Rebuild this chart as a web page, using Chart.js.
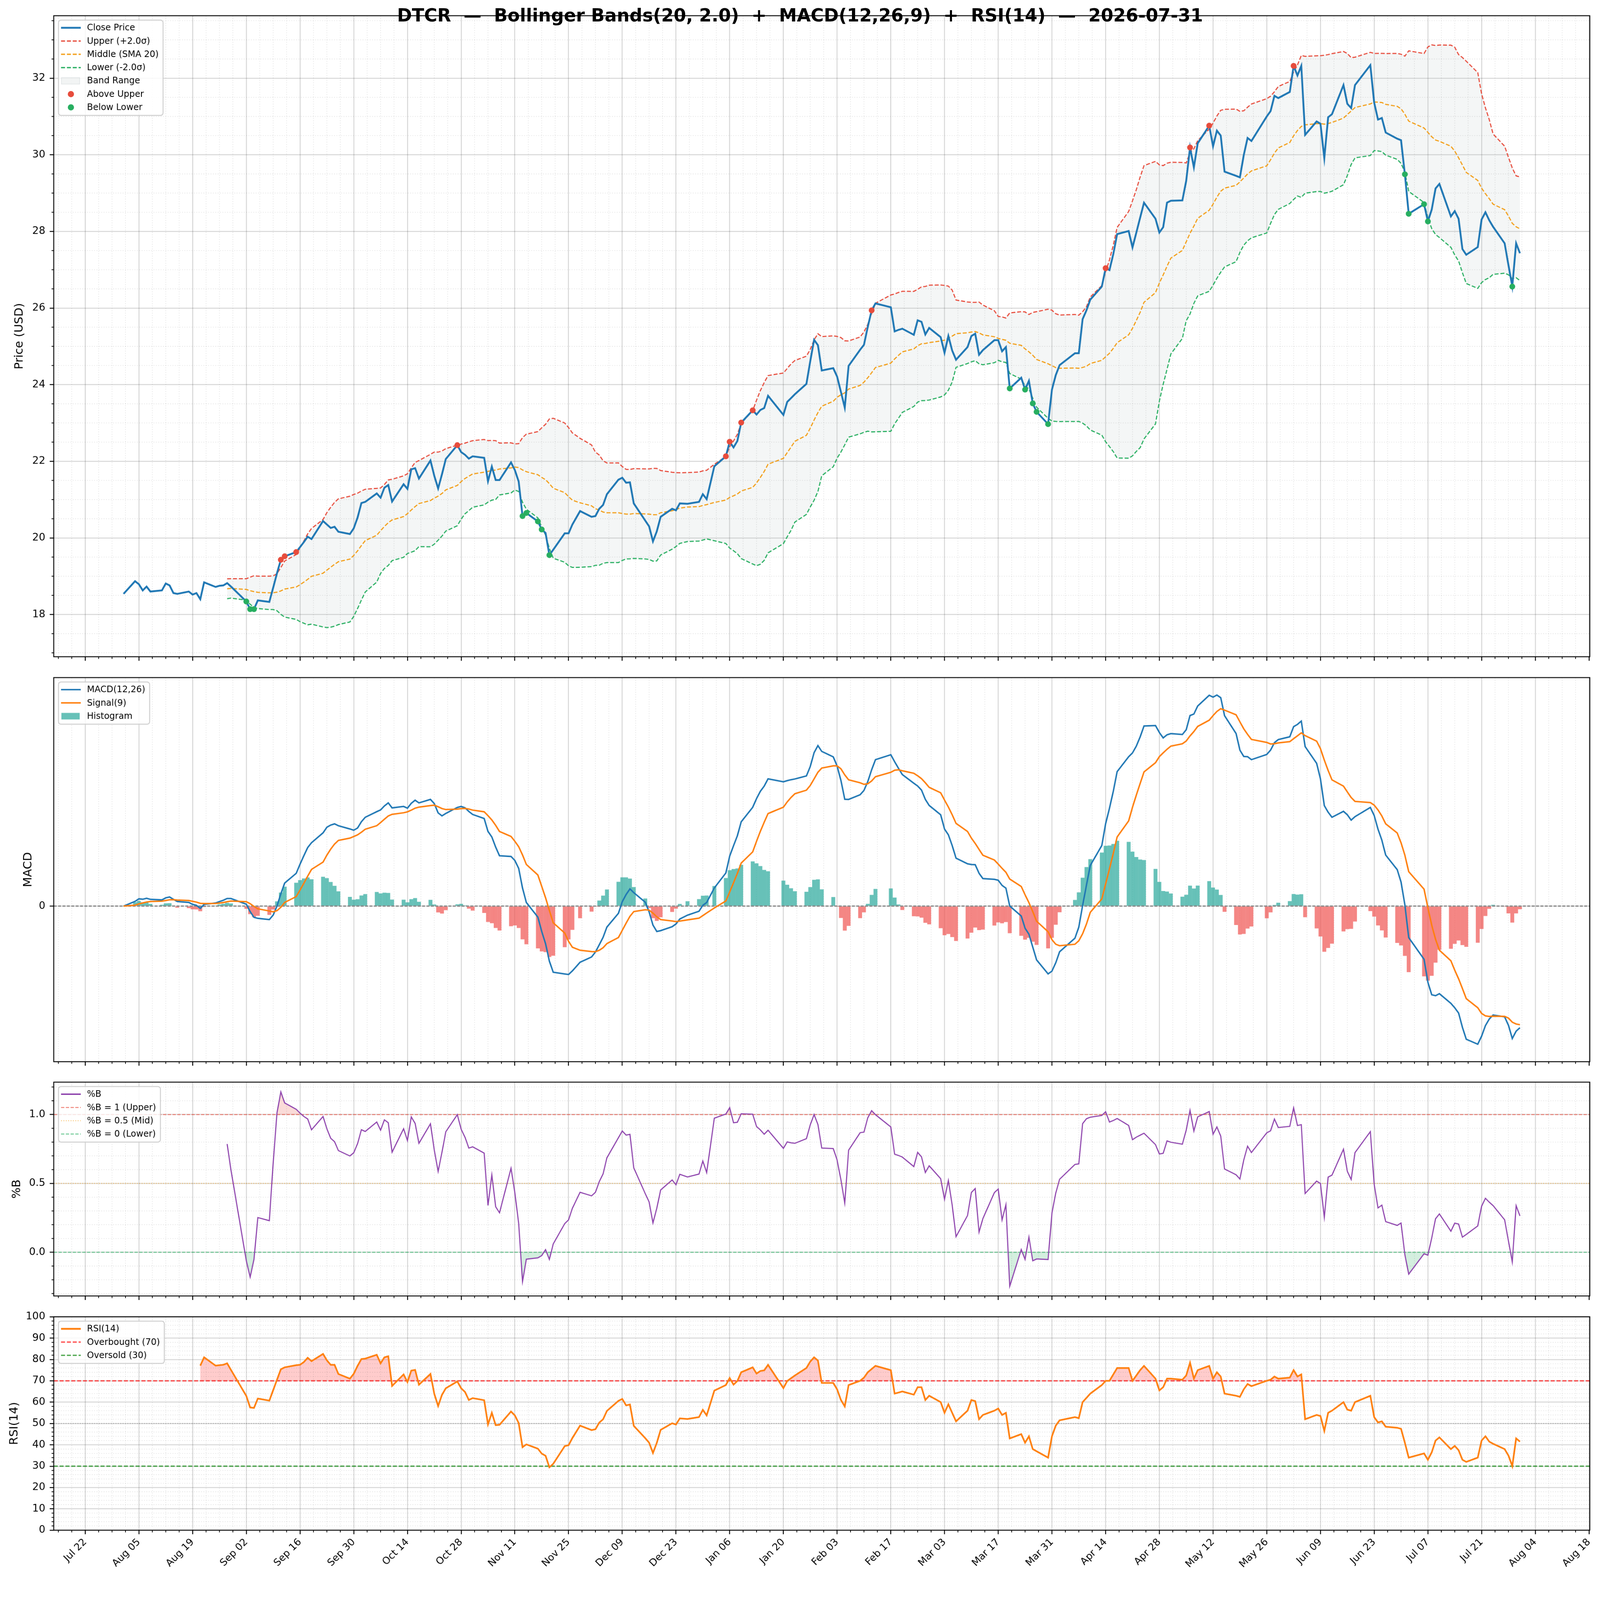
<!DOCTYPE html>
<html>
<head>
<meta charset="utf-8">
<title>DTCR - Bollinger Bands, MACD, %B, RSI</title>
<script src="https://cdn.jsdelivr.net/npm/chart.js@4.4.1/dist/chart.umd.min.js"></script>
<style>
  html, body { margin: 0; padding: 0; background: #fff; overflow: hidden; }
  #page { position: absolute; left: 0; top: 0; width: 4378px; height: 4322px; transform-origin: 0 0; background: #fff; }
  canvas { position: absolute; left: 0; }
  #title { position: absolute; left: 0; top: 15px; width: 4378px; text-align: center; white-space: pre;
           font: bold 49px "DejaVu Sans", sans-serif; line-height: 56px; color: #000; z-index: 5; }
</style>
</head>
<body>
<div id="page">
<canvas id="pricePanel" style="top:0px"></canvas>
<canvas id="macdPanel" style="top:1830px"></canvas>
<canvas id="pctbPanel" style="top:2940px"></canvas>
<canvas id="rsiPanel" style="top:3580px"></canvas>
<div id="title">DTCR  —  Bollinger Bands(20, 2.0)  +  MACD(12,26,9)  +  RSI(14)  —  2026-07-31</div>
</div>
<script>
// trading sessions shown on the chart
var dates = [
  '2025-08-01','2025-08-04','2025-08-05','2025-08-06','2025-08-07','2025-08-08','2025-08-11','2025-08-12','2025-08-13','2025-08-14',
  '2025-08-15','2025-08-18','2025-08-19','2025-08-20','2025-08-21','2025-08-22','2025-08-25','2025-08-26','2025-08-27','2025-08-28',
  '2025-08-29','2025-09-02','2025-09-03','2025-09-04','2025-09-05','2025-09-08','2025-09-09','2025-09-10','2025-09-11','2025-09-12',
  '2025-09-15','2025-09-16','2025-09-17','2025-09-18','2025-09-19','2025-09-22','2025-09-23','2025-09-24','2025-09-25','2025-09-26',
  '2025-09-29','2025-09-30','2025-10-01','2025-10-02','2025-10-03','2025-10-06','2025-10-07','2025-10-08','2025-10-09','2025-10-10',
  '2025-10-13','2025-10-14','2025-10-15','2025-10-16','2025-10-17','2025-10-20','2025-10-21','2025-10-22','2025-10-23','2025-10-24',
  '2025-10-27','2025-10-28','2025-10-29','2025-10-30','2025-10-31','2025-11-03','2025-11-04','2025-11-05','2025-11-06','2025-11-07',
  '2025-11-10','2025-11-11','2025-11-12','2025-11-13','2025-11-14','2025-11-17','2025-11-18','2025-11-19','2025-11-20','2025-11-21',
  '2025-11-24','2025-11-25','2025-11-26','2025-11-28','2025-12-01','2025-12-02','2025-12-03','2025-12-04','2025-12-05','2025-12-08',
  '2025-12-09','2025-12-10','2025-12-11','2025-12-12','2025-12-15','2025-12-16','2025-12-17','2025-12-18','2025-12-19','2025-12-22',
  '2025-12-23','2025-12-24','2025-12-26','2025-12-29','2025-12-30','2025-12-31','2026-01-02','2026-01-05','2026-01-06','2026-01-07',
  '2026-01-08','2026-01-09','2026-01-12','2026-01-13','2026-01-14','2026-01-15','2026-01-16','2026-01-20','2026-01-21','2026-01-22',
  '2026-01-23','2026-01-26','2026-01-27','2026-01-28','2026-01-29','2026-01-30','2026-02-02','2026-02-03','2026-02-04','2026-02-05',
  '2026-02-06','2026-02-09','2026-02-10','2026-02-11','2026-02-12','2026-02-13','2026-02-17','2026-02-18','2026-02-19','2026-02-20',
  '2026-02-23','2026-02-24','2026-02-25','2026-02-26','2026-02-27','2026-03-02','2026-03-03','2026-03-04','2026-03-05','2026-03-06',
  '2026-03-09','2026-03-10','2026-03-11','2026-03-12','2026-03-13','2026-03-16','2026-03-17','2026-03-18','2026-03-19','2026-03-20',
  '2026-03-23','2026-03-24','2026-03-25','2026-03-26','2026-03-27','2026-03-30','2026-03-31','2026-04-01','2026-04-02','2026-04-06',
  '2026-04-07','2026-04-08','2026-04-09','2026-04-10','2026-04-13','2026-04-14','2026-04-15','2026-04-16','2026-04-17','2026-04-20',
  '2026-04-21','2026-04-22','2026-04-23','2026-04-24','2026-04-27','2026-04-28','2026-04-29','2026-04-30','2026-05-01','2026-05-04',
  '2026-05-05','2026-05-06','2026-05-07','2026-05-08','2026-05-11','2026-05-12','2026-05-13','2026-05-14','2026-05-15','2026-05-18',
  '2026-05-19','2026-05-20','2026-05-21','2026-05-22','2026-05-26','2026-05-27','2026-05-28','2026-05-29','2026-06-01','2026-06-02',
  '2026-06-03','2026-06-04','2026-06-05','2026-06-08','2026-06-09','2026-06-10','2026-06-11','2026-06-12','2026-06-15','2026-06-16',
  '2026-06-17','2026-06-18','2026-06-22','2026-06-23','2026-06-24','2026-06-25','2026-06-26','2026-06-29','2026-06-30','2026-07-01',
  '2026-07-02','2026-07-06','2026-07-07','2026-07-08','2026-07-09','2026-07-10','2026-07-13','2026-07-14','2026-07-15','2026-07-16',
  '2026-07-17','2026-07-20','2026-07-21','2026-07-22','2026-07-23','2026-07-24','2026-07-27','2026-07-28','2026-07-29','2026-07-30',
  '2026-07-31'
]

// close price, one per session (USD)
var closePrice = [
  18.54, 18.87, 18.79, 18.63, 18.73, 18.60, 18.63, 18.81, 18.76, 18.56, 18.54, 18.60, 18.52, 18.56, 18.40, 18.84, 18.72, 18.75, 18.76, 18.82, 18.73,
  18.34, 18.14, 18.14, 18.37, 18.33, 18.70, 19.08, 19.43, 19.52, 19.63, 19.76, 19.89, 20.03, 19.97, 20.44, 20.35, 20.26, 20.29, 20.16, 20.10, 20.25,
  20.53, 20.91, 20.94, 21.16, 21.05, 21.31, 21.38, 20.95, 21.40, 21.28, 21.79, 21.82, 21.55, 22.02, 21.62, 21.29, 21.66, 22.06, 22.42, 22.24, 22.17, 22.07, 22.13,
  22.09, 21.48, 21.86, 21.51, 21.51, 21.97, 21.77, 21.47, 20.57, 20.65, 20.43, 20.22, 20.13, 19.55, 19.69, 20.12, 20.12, 20.35, 20.70,
  20.55, 20.57, 20.76, 20.86, 21.14, 21.52, 21.57, 21.44, 21.45, 20.90, 20.45, 20.30, 19.91, 20.17, 20.55, 20.76, 20.72, 20.90, 20.89, 20.94, 21.14, 21.01,
  21.87, 22.13, 22.51, 22.36, 22.53, 23.01, 23.33, 23.22, 23.34, 23.39, 23.71, 23.21, 23.55, 23.65, 23.75, 24.02, 24.61, 25.17, 25.03, 24.37,
  24.43, 24.21, 23.81, 23.40, 24.49, 24.91, 25.04, 25.51, 25.94, 26.12, 26.02, 25.39, 25.43, 25.46, 25.30, 25.68, 25.64, 25.31, 25.48,
  25.24, 24.83, 25.27, 24.89, 24.65, 24.98, 25.27, 25.33, 24.78, 24.90, 25.16, 25.16, 24.87, 24.98, 23.90, 24.18, 23.87, 24.10, 23.51, 23.29, 22.97, 23.87,
  24.25, 24.51, 24.82, 24.82, 25.71, 25.94, 26.22, 26.56, 27.04, 26.99, 27.41, 27.93, 28.01, 27.58, 27.97, 28.36, 28.75, 28.33, 27.97, 28.11, 28.75,
  28.80, 28.81, 29.32, 30.19, 29.67, 30.30, 30.76, 30.22, 30.63, 30.50, 29.56, 29.45, 29.41, 29.99, 30.44, 30.36, 31.00, 31.14, 31.54, 31.48,
  31.64, 32.32, 32.07, 32.32, 30.52, 30.87, 30.81, 29.91, 30.98, 31.06, 31.82, 31.33, 31.22, 31.82, 32.34, 31.36, 30.92, 30.96, 30.58, 30.42, 30.38,
  29.49, 28.46, 28.71, 28.26, 28.57, 29.12, 29.24, 28.39, 28.53, 28.33, 27.54, 27.39, 27.59, 28.31, 28.50, 28.29, 28.12, 27.69, 27.12, 26.56, 27.69, 27.43
]

// RSI(14) as drawn, from the 15th session (2025-08-21) on
var rsiFirstDate = '2025-08-21'
var rsi14 = [
  77.1, 81.0, 77.1, 77.3, 77.5, 78.2, 75.1,
  62.9, 57.5, 57.3, 61.7, 60.7, 65.6, 70.5, 75.4, 76.3, 77.3, 77.5, 78.8, 80.8, 79.2, 82.6, 79.6, 77.5, 77.5, 73.2, 71.0, 73.3,
  77.0, 80.2, 80.4, 82.2, 78.2, 81.0, 81.5, 67.6, 73.0, 69.4, 74.8, 75.1, 68.2, 73.2, 63.9, 58.2, 63.4, 66.5, 69.7, 66.5, 64.8, 61.0, 61.9,
  60.9, 49.6, 55.0, 49.2, 49.4, 55.6, 53.8, 50.2, 38.9, 40.2, 38.2, 35.9, 34.9, 29.5, 31.1, 39.4, 39.8, 43.2, 49.0,
  46.9, 47.3, 50.4, 52.0, 55.9, 60.6, 61.5, 58.5, 58.9, 48.9, 43.1, 41.0, 36.2, 40.9, 47.0, 50.1, 49.5, 52.4, 52.1, 53.0, 56.4, 53.8,
  65.4, 68.0, 71.3, 68.2, 69.9, 74.0, 76.3, 73.4, 74.6, 74.9, 77.5, 66.6, 69.9, 71.2, 72.5, 76.0, 79.0, 81.0, 79.5, 69.0,
  69.0, 66.0, 61.0, 58.0, 68.0, 70.0, 71.5, 74.0, 75.5, 77.0, 75.0, 64.0, 64.5, 65.0, 63.5, 67.0, 67.0, 61.0, 63.0,
  60.0, 55.0, 59.0, 55.0, 51.0, 56.0, 61.0, 60.5, 52.0, 54.0, 56.0, 57.0, 54.0, 55.0, 43.0, 45.0, 41.0, 44.0, 38.0, 37.0, 34.0, 44.0,
  49.0, 51.5, 53.0, 52.5, 60.0, 62.0, 64.0, 68.0, 70.0, 70.0, 73.0, 76.0, 76.0, 70.0, 72.5, 75.0, 77.0, 71.0, 65.5, 67.0, 71.0,
  71.0, 70.5, 72.5, 78.5, 71.0, 75.0, 77.0, 71.0, 74.0, 72.0, 64.0, 63.0, 62.5, 66.0, 68.5, 67.5, 70.0, 70.5, 72.0, 71.0,
  71.5, 75.0, 72.0, 73.0, 52.0, 54.0, 53.5, 46.5, 55.0, 56.0, 60.0, 56.5, 56.0, 60.0, 63.0, 53.0, 50.5, 51.0, 48.5, 48.0, 47.5,
  41.0, 34.0, 36.0, 33.0, 36.5, 42.0, 43.5, 38.0, 39.5, 37.5, 33.0, 32.0, 34.0, 42.0, 44.0, 41.5, 40.5, 38.0, 35.0, 30.0, 43.0, 41.5
]

// sessions flagged with a marker on the price panel
var aboveUpperDates = ['2025-09-11', '2025-09-12', '2025-09-15', '2025-10-27', '2026-01-05', '2026-01-06', '2026-01-09',
  '2026-01-12', '2026-02-12', '2026-04-14', '2026-05-06', '2026-05-11', '2026-06-02']
var belowLowerDates = ['2025-09-02', '2025-09-03', '2025-09-04', '2025-11-13', '2025-11-14', '2025-11-17', '2025-11-18',
  '2025-11-20', '2026-03-20', '2026-03-24', '2026-03-26', '2026-03-27', '2026-03-30', '2026-07-01', '2026-07-02',
  '2026-07-06', '2026-07-07', '2026-07-29']

// axis ticks
var priceTicks = [18, 20, 22, 24, 26, 28, 30, 32]
var macdTicks = [0]
var pctbTicks = [0, 0.5, 1]
var rsiTicks = [0, 10, 20, 30, 40, 50, 60, 70, 80, 90, 100]
var dateTickFirst = '2025-07-22'
var dateTickEvery = 14

// ---------------------------------------------------------------------------

// the page is laid out at 4378x4322; scale it to the viewport width
var PAGE_W = 4378, PAGE_H = 4322
var page = document.getElementById('page')
var scale = window.innerWidth / PAGE_W
if (Math.abs(scale - 1) > 0.002) page.style.transform = 'scale(' + scale + ')'
var DPR = Math.max(1, (window.devicePixelRatio || 1) * scale)

var MONTHS = ['Jan', 'Feb', 'Mar', 'Apr', 'May', 'Jun', 'Jul', 'Aug', 'Sep', 'Oct', 'Nov', 'Dec']
var BASE = Date.parse(dateTickFirst)
function dayNum(s) { return (Date.parse(s) - BASE) / 864e5 }
function fmtDay(v) {
    var d = new Date(BASE + v * 864e5)
    return MONTHS[d.getUTCMonth()] + ' ' + String(d.getUTCDate()).padStart(2, '0')
}

var xs = dates.map(dayNum)
var span = xs[xs.length - 1] - xs[0]
var X_MIN = xs[0] - 0.05 * span
var X_MAX = xs[xs.length - 1] + 0.05 * span
var xTicks = []
for (var t = 0; t <= X_MAX; t += dateTickEvery) xTicks.push(t)

// Bollinger(20, 2)
var upper = [], middle = [], lower = [], pctB = []
closePrice.forEach(function (c, i) {
    if (i < 19) { upper.push(null); middle.push(null); lower.push(null); pctB.push(null); return }
    var w = closePrice.slice(i - 19, i + 1)
    var m = w.reduce(function (a, b) { return a + b }, 0) / 20
    var sd = Math.sqrt(w.reduce(function (a, b) { return a + (b - m) * (b - m) }, 0) / 19)
    middle.push(m); upper.push(m + 2 * sd); lower.push(m - 2 * sd)
    pctB.push((c - (m - 2 * sd)) / (4 * sd))
})

// MACD(12, 26, 9)
function ema(arr, span) {
    var a = 2 / (span + 1), out = [], prev
    arr.forEach(function (v, i) { prev = i === 0 ? v : a * v + (1 - a) * prev; out.push(prev) })
    return out
}
var ema12 = ema(closePrice, 12), ema26 = ema(closePrice, 26)
var macd = ema12.map(function (v, i) { return v - ema26[i] })
var signal = ema(macd, 9)
var hist = macd.map(function (v, i) { return v - signal[i] })

function pts(arr) {
    var out = []
    arr.forEach(function (y, i) { if (y !== null) out.push({ x: xs[i], y: y }) })
    return out
}
function markerPts(list) {
    return list.map(function (d) { var i = dates.indexOf(d); return { x: xs[i], y: closePrice[i] } })
}
var rsiStart = dates.indexOf(rsiFirstDate)
var rsiPts = rsi14.map(function (v, k) { return { x: xs[rsiStart + k], y: v } })
function hline(v) { return [{ x: X_MIN, y: v }, { x: X_MAX, y: v }] }
function padded(vals) {
    var lo = Math.min.apply(null, vals), hi = Math.max.apply(null, vals), p = 0.05 * (hi - lo)
    return { min: lo - p, max: hi + p }
}

var priceRange = padded(closePrice.concat(upper.filter(Number.isFinite), lower.filter(Number.isFinite)))
var macdRange = padded(macd.concat(signal, hist, [0]))
var pctbRange = padded(pctB.filter(Number.isFinite).concat([0, 1]))

// ---------------------------------------------------------------------------

Chart.defaults.font.family = '"DejaVu Sans", sans-serif'
Chart.defaults.color = '#000'
Chart.defaults.plugins.legend.display = false
Chart.defaults.plugins.tooltip.enabled = false

var GRID = 'rgba(0,0,0,0.17)'
var MINOR = 'rgba(0,0,0,0.13)'
var AREA_LEFT = 147

var LEGENDS = {
    pricePanel: [
        { label: 'Close Price', kind: 'line', color: '#1f77b4', width: 5 },
        { label: 'Upper (+2.0\u03c3)', kind: 'line', color: '#e74c3c', width: 3.5, dash: [11, 5] },
        { label: 'Middle (SMA 20)', kind: 'line', color: '#f39c12', width: 3.5, dash: [11, 5] },
        { label: 'Lower (-2.0\u03c3)', kind: 'line', color: '#27ae60', width: 3.5, dash: [11, 5] },
        { label: 'Band Range', kind: 'box', color: 'rgba(149,165,166,0.12)', edge: 'rgba(149,165,166,0.25)' },
        { label: 'Above Upper', kind: 'dot', color: '#e74c3c' },
        { label: 'Below Lower', kind: 'dot', color: '#27ae60' }
    ],
    macdPanel: [
        { label: 'MACD(12,26)', kind: 'line', color: '#1f77b4', width: 4 },
        { label: 'Signal(9)', kind: 'line', color: '#ff7f0e', width: 4 },
        { label: 'Histogram', kind: 'box', color: 'rgba(38,166,154,0.7)' }
    ],
    pctbPanel: [
        { label: '%B', kind: 'line', color: '#8e44ad', width: 4 },
        { label: '%B = 1 (Upper)', kind: 'line', color: 'rgba(231,76,60,0.7)', width: 2.5, dash: [9, 4] },
        { label: '%B = 0.5 (Mid)', kind: 'line', color: 'rgba(243,156,18,0.6)', width: 2.5, dash: [2.5, 4] },
        { label: '%B = 0 (Lower)', kind: 'line', color: 'rgba(39,174,96,0.7)', width: 2.5, dash: [9, 4] }
    ],
    rsiPanel: [
        { label: 'RSI(14)', kind: 'line', color: '#ff7f0e', width: 5 },
        { label: 'Overbought (70)', kind: 'line', color: 'rgba(255,0,0,0.7)', width: 3.5, dash: [11, 5] },
        { label: 'Oversold (30)', kind: 'line', color: 'rgba(0,128,0,0.7)', width: 3.5, dash: [11, 5] }
    ]
}
var MINORS = {
    pricePanel: { step: 0.5, major: 2 },
    macdPanel: null,
    pctbPanel: { step: 0.1, major: 0.5 },
    rsiPanel: { step: 2, major: 10 }
}

function minorValues(min, max, step, major) {
    var out = []
    for (var k = Math.ceil(min / step); k * step <= max; k++) {
        var v = k * step, r = v / major
        if (Math.abs(r - Math.round(r)) < 1e-6) continue
        out.push(v)
    }
    return out
}

function drawLegend(chart, items) {
    var ctx = chart.ctx, a = chart.chartArea
    ctx.save()
    ctx.font = '24px "DejaVu Sans", sans-serif'
    var rowH = 36.3, tw = 0
    items.forEach(function (it) { tw = Math.max(tw, ctx.measureText(it.label).width) })
    var x0 = a.left + 13, y0 = a.top + 12
    var w = 78 + tw + 12, h = 21 + rowH * (items.length - 1) + 22
    ctx.beginPath()
    ctx.roundRect(x0, y0, w, h, 7)
    ctx.fillStyle = 'rgba(255,255,255,0.8)'
    ctx.fill()
    ctx.strokeStyle = '#cccccc'
    ctx.lineWidth = 2.5
    ctx.stroke()
    items.forEach(function (it, i) {
        var y = y0 + 21 + i * rowH
        if (it.kind === 'line') {
            ctx.beginPath()
            ctx.setLineDash(it.dash || [])
            ctx.strokeStyle = it.color
            ctx.lineWidth = it.width
            ctx.moveTo(x0 + 7, y); ctx.lineTo(x0 + 61, y)
            ctx.stroke()
            ctx.setLineDash([])
        } else if (it.kind === 'box') {
            ctx.fillStyle = it.color
            ctx.fillRect(x0 + 8, y - 9, 50, 18)
            if (it.edge) { ctx.strokeStyle = it.edge; ctx.lineWidth = 1.5; ctx.strokeRect(x0 + 8, y - 9, 50, 18) }
        } else {
            ctx.beginPath()
            ctx.fillStyle = it.color
            ctx.arc(x0 + 34, y, 8.5, 0, Math.PI * 2)
            ctx.fill()
        }
        ctx.fillStyle = '#000'
        ctx.textAlign = 'left'
        ctx.textBaseline = 'middle'
        ctx.fillText(it.label, x0 + 78, y + 1)
    })
    ctx.restore()
}

var extras = {
    id: 'extras',
    beforeDatasetsDraw: function (chart) {
        var ctx = chart.ctx, a = chart.chartArea, x = chart.scales.x, y = chart.scales.y
        var mi = MINORS[chart.canvas.id]
        ctx.save()
        ctx.beginPath(); ctx.rect(a.left, a.top, a.width, a.height); ctx.clip()
        ctx.strokeStyle = MINOR
        ctx.lineWidth = 1.6
        ctx.setLineDash([2.5, 4])
        minorValues(x.min, x.max, dateTickEvery / 4, dateTickEvery).forEach(function (v) {
            var p = x.getPixelForValue(v)
            ctx.beginPath(); ctx.moveTo(p, a.top); ctx.lineTo(p, a.bottom); ctx.stroke()
        })
        if (mi) minorValues(y.min, y.max, mi.step, mi.major).forEach(function (v) {
            var p = y.getPixelForValue(v)
            ctx.beginPath(); ctx.moveTo(a.left, p); ctx.lineTo(a.right, p); ctx.stroke()
        })
        ctx.restore()
    },
    afterDatasetsDraw: function (chart) {
        var ctx = chart.ctx, a = chart.chartArea, x = chart.scales.x, y = chart.scales.y
        var mi = MINORS[chart.canvas.id]
        ctx.save()
        ctx.strokeStyle = '#000'
        ctx.lineWidth = 2
        minorValues(x.min, x.max, dateTickEvery / 4, dateTickEvery).forEach(function (v) {
            var p = x.getPixelForValue(v)
            ctx.beginPath(); ctx.moveTo(p, a.bottom); ctx.lineTo(p, a.bottom + 6); ctx.stroke()
        })
        if (mi) minorValues(y.min, y.max, mi.step, mi.major).forEach(function (v) {
            var p = y.getPixelForValue(v)
            ctx.beginPath(); ctx.moveTo(a.left - 6, p); ctx.lineTo(a.left, p); ctx.stroke()
        })
        ctx.lineWidth = 2.5
        ctx.strokeRect(a.left, a.top, a.width, a.height)
        ctx.restore()
    },
    afterDraw: function (chart) {
        var items = LEGENDS[chart.canvas.id]
        if (items) drawLegend(chart, items)
    }
}
Chart.register(extras)

function sizeCanvas(id, h) {
    var c = document.getElementById(id)
    c.style.width = PAGE_W + 'px'
    c.style.height = h + 'px'
    c.width = PAGE_W
    c.height = h
    return c
}
function xScale(showLabels, height) {
    return {
        type: 'linear', min: X_MIN, max: X_MAX, offset: false,
        grid: { offset: false, color: GRID, lineWidth: 2.5, tickColor: '#000', tickWidth: 2.5, tickLength: 11 },
        border: { display: false },
        ticks: { display: showLabels, autoSkip: false, maxRotation: 45, minRotation: 45, padding: 6,
                 font: { size: 27 }, callback: function (v) { return fmtDay(v) } },
        afterBuildTicks: function (s) { s.ticks = xTicks.map(function (v) { return { value: v } }) },
        afterFit: function (s) { s.height = height; s.paddingLeft = 0; s.paddingRight = 0 }
    }
}
function yScale(o) {
    return {
        type: 'linear', min: o.range.min, max: o.range.max,
        grid: { color: GRID, lineWidth: 2.5, tickColor: '#000', tickWidth: 2.5, tickLength: 11 },
        border: { display: false },
        ticks: { font: { size: 28 }, padding: 12, callback: o.fmt },
        title: { display: true, text: o.title, font: { size: 32 }, padding: { top: 4, bottom: 4 } },
        afterBuildTicks: function (s) { s.ticks = o.ticks.map(function (v) { return { value: v } }) },
        afterFit: function (s) { s.width = AREA_LEFT - o.padLeft; s.paddingTop = 0; s.paddingBottom = 0 }
    }
}
function baseOptions(padLeft, padTop, xs_, ys_) {
    return {
        responsive: false, maintainAspectRatio: false, devicePixelRatio: DPR, animation: false, events: [],
        layout: { padding: { left: padLeft, right: 28, top: padTop, bottom: 0 } },
        plugins: { filler: { propagate: false, drawTime: 'beforeDatasetsDraw' } },
        elements: { point: { radius: 0 }, line: { tension: 0 } },
        scales: { x: xs_, y: ys_ }
    }
}

// price + Bollinger bands
new Chart(sizeCanvas('pricePanel', 1830), {
    type: 'line',
    data: {
        datasets: [
            { data: pts(upper), borderColor: '#e74c3c', borderWidth: 3, borderDash: [11, 5], fill: '+2',
              backgroundColor: 'rgba(149,165,166,0.1)', order: 3 },
            { data: pts(middle), borderColor: '#f39c12', borderWidth: 3, borderDash: [11, 5], fill: false, order: 3 },
            { data: pts(lower), borderColor: '#27ae60', borderWidth: 3, borderDash: [11, 5], fill: false, order: 3 },
            { data: pts(closePrice), borderColor: '#1f77b4', borderWidth: 5, fill: false, order: 2 },
            { data: markerPts(aboveUpperDates), showLine: false, pointRadius: 8, pointBorderWidth: 0,
              pointBackgroundColor: '#e74c3c', order: 1 },
            { data: markerPts(belowLowerDates), showLine: false, pointRadius: 8, pointBorderWidth: 0,
              pointBackgroundColor: '#27ae60', order: 1 }
        ]
    },
    options: baseOptions(30, 43, xScale(false, 33),
        yScale({ range: priceRange, ticks: priceTicks, title: 'Price (USD)', padLeft: 30, fmt: function (v) { return String(v) } }))
})

// MACD
new Chart(sizeCanvas('macdPanel', 1110), {
    type: 'bar',
    data: {
        datasets: [
            { type: 'line', data: pts(signal), borderColor: '#ff7f0e', borderWidth: 4, fill: false, order: 0 },
            { type: 'line', data: pts(macd), borderColor: '#1f77b4', borderWidth: 4, fill: false, order: 1 },
            { type: 'line', data: hline(0), borderColor: '#888888', borderWidth: 3.5, borderDash: [8, 4], fill: false, order: 2 },
            { type: 'bar', data: pts(hist), barThickness: 10,
              backgroundColor: hist.map(function (v) { return v >= 0 ? 'rgba(38,166,154,0.7)' : 'rgba(239,83,80,0.7)' }),
              borderWidth: 0, order: 3 }
        ]
    },
    options: baseOptions(54, 24, xScale(false, 35),
        yScale({ range: macdRange, ticks: macdTicks, title: 'MACD', padLeft: 54, fmt: function (v) { return String(v) } }))
})

// %B
new Chart(sizeCanvas('pctbPanel', 640), {
    type: 'line',
    data: {
        datasets: [
            { data: pts(pctB), borderColor: '#8e44ad', borderWidth: 3,
              fill: { target: { value: 1 }, above: 'rgba(231,76,60,0.2)', below: 'rgba(0,0,0,0)' }, order: 0 },
            { data: pts(pctB), borderWidth: 0, borderColor: 'rgba(0,0,0,0)',
              fill: { target: { value: 0 }, above: 'rgba(0,0,0,0)', below: 'rgba(39,174,96,0.2)' }, order: 5 },
            { data: hline(1), borderColor: 'rgba(231,76,60,0.7)', borderWidth: 2.5, borderDash: [9, 4], fill: false, order: 2 },
            { data: hline(0.5), borderColor: 'rgba(243,156,18,0.6)', borderWidth: 2.5, borderDash: [2.5, 4], fill: false, order: 2 },
            { data: hline(0), borderColor: 'rgba(39,174,96,0.7)', borderWidth: 2.5, borderDash: [9, 4], fill: false, order: 2 }
        ]
    },
    options: baseOptions(23, 21, xScale(false, 34),
        yScale({ range: pctbRange, ticks: pctbTicks, title: '%B', padLeft: 23, fmt: function (v) { return v.toFixed(1) } }))
})

// RSI
new Chart(sizeCanvas('rsiPanel', 742), {
    type: 'line',
    data: {
        datasets: [
            { data: rsiPts, borderColor: '#ff7f0e', borderWidth: 4.5,
              fill: { target: { value: 70 }, above: 'rgba(255,0,0,0.2)', below: 'rgba(0,0,0,0)' }, order: 0 },
            { data: rsiPts, borderWidth: 0, borderColor: 'rgba(0,0,0,0)',
              fill: { target: { value: 30 }, above: 'rgba(0,0,0,0)', below: 'rgba(0,128,0,0.2)' }, order: 5 },
            { data: hline(70), borderColor: 'rgba(255,0,0,0.7)', borderWidth: 3.5, borderDash: [11, 5], fill: false, order: 2 },
            { data: hline(30), borderColor: 'rgba(0,128,0,0.7)', borderWidth: 3.5, borderDash: [11, 5], fill: false, order: 2 },
            { data: hline(50), borderColor: 'rgba(128,128,128,0.6)', borderWidth: 2.5, borderDash: [2.5, 4], fill: false, order: 2 }
        ]
    },
    options: baseOptions(16, 23, xScale(true, 135),
        yScale({ range: { min: 0, max: 100 }, ticks: rsiTicks, title: 'RSI(14)', padLeft: 16, fmt: function (v) { return String(v) } }))
})
</script>
</body>
</html>
